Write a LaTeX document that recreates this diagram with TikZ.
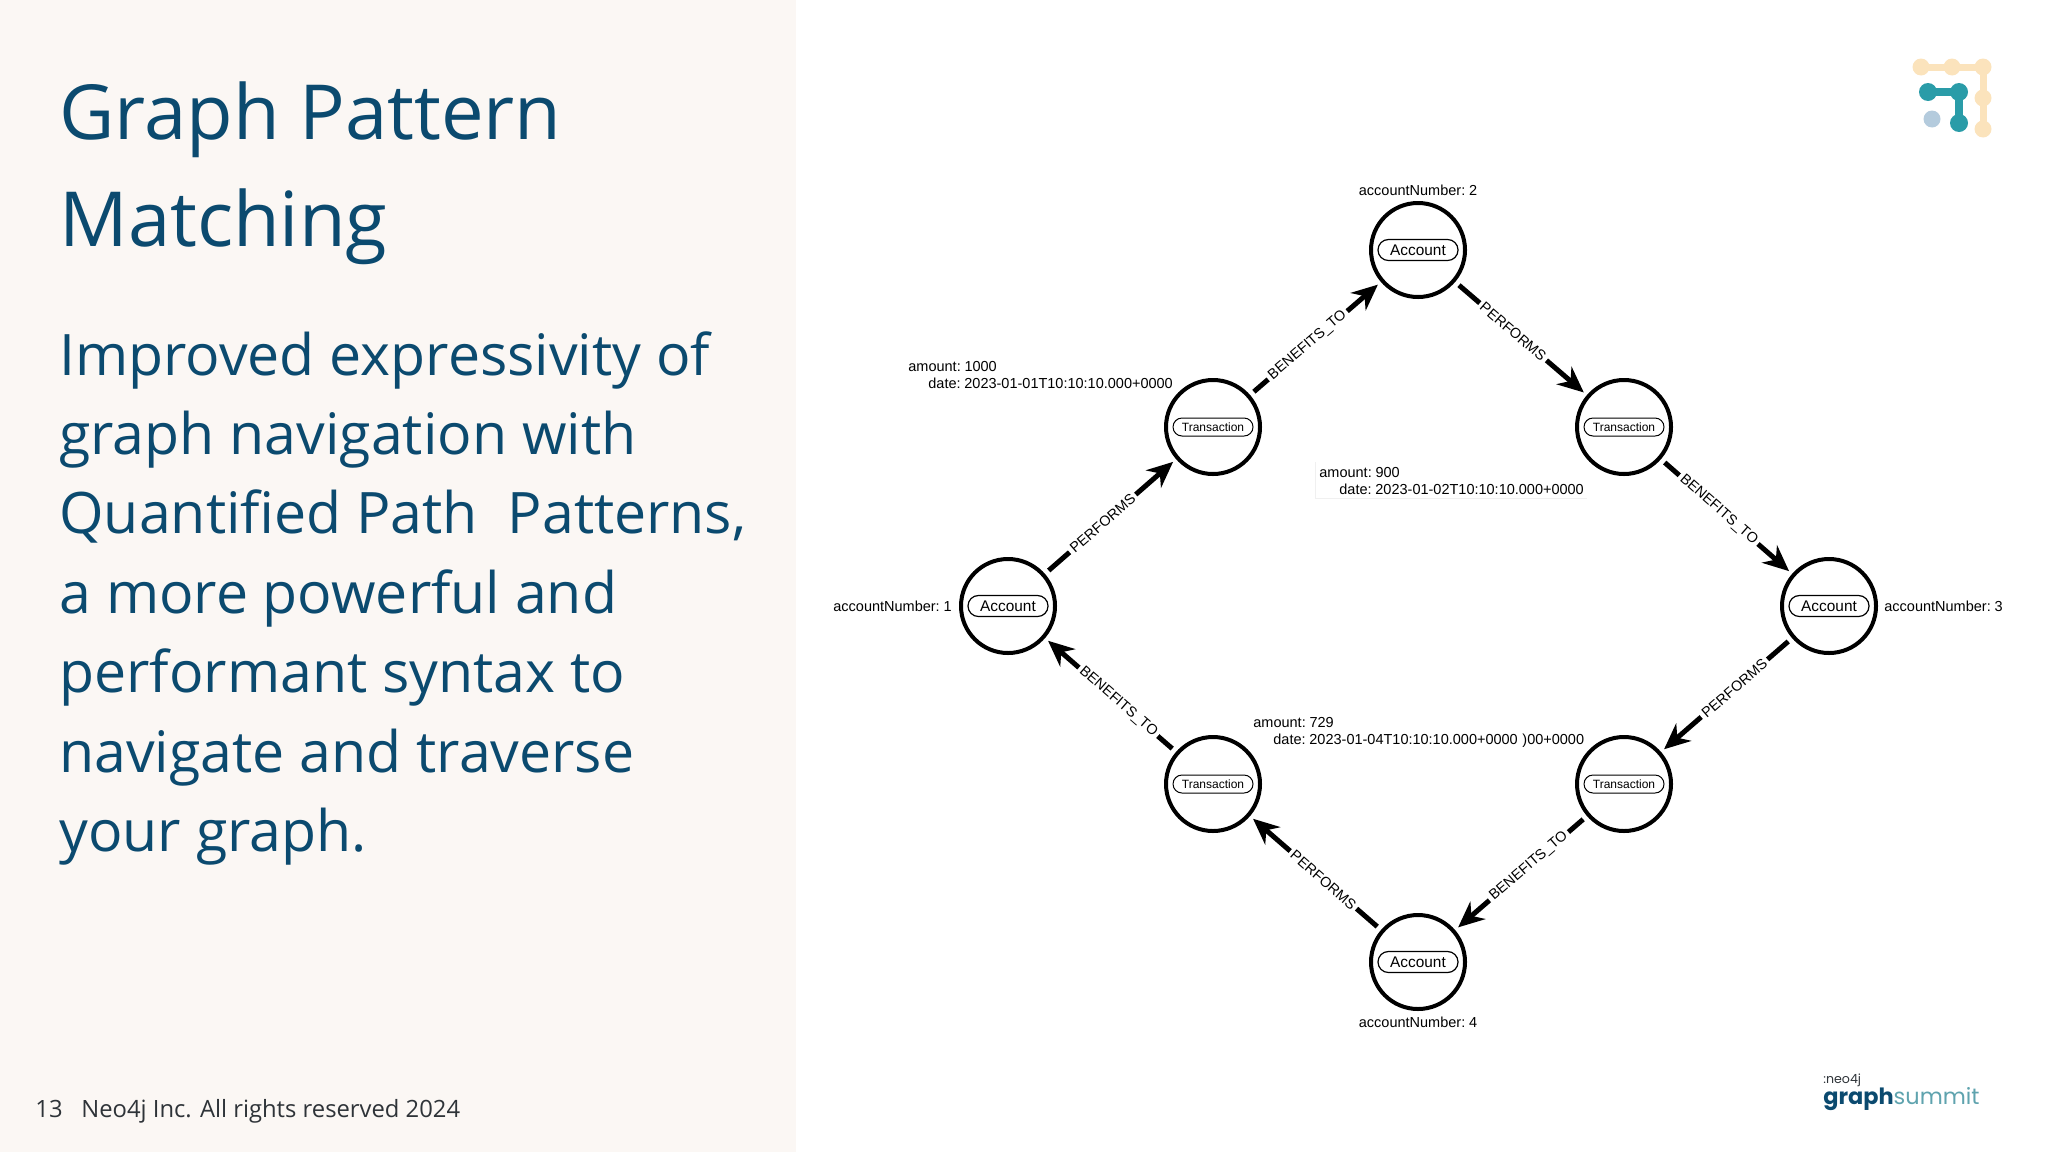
\documentclass[tikz,border=0pt]{standalone}
\usepackage{fontspec}
\usepackage{tikz}
\usetikzlibrary{arrows.meta}
\setmainfont{Open Sans}
\newfontfamily\diagramfont[WordSpace=.6]{Liberation Sans}
\newfontfamily\brandfont{Poppins}
\definecolor{panelbg}{HTML}{FBF7F4}
\definecolor{titleblue}{HTML}{0B4A6F}
\definecolor{footgray}{HTML}{2E3338}
\definecolor{logocream}{HTML}{FBE3BC}
\definecolor{logoteal}{HTML}{2A9CA8}
\definecolor{logoblue}{HTML}{B4CBDD}
\definecolor{brandteal}{HTML}{5FA3AE}
\tikzset{
	graphnode/.style={draw, circle, line width=2pt, minimum size=47pt, inner sep=0pt},
	acctpill/.style={draw, rounded corners=5.2pt, line width=.6pt, minimum width=40pt, minimum height=10.5pt, inner sep=0pt, font=\diagramfont\fontsize{7.7}{9}\selectfont},
	txnpill/.style={draw, rounded corners=4.5pt, line width=.5pt, minimum width=40pt, minimum height=9pt, inner sep=0pt, font=\diagramfont\fontsize{6}{7}\selectfont},
	rel/.style={line width=2.5pt, -{Stealth[length=13pt,width=11.5pt]}, shorten <=2.5pt, shorten >=2pt},
	rellabel/.style={pos=.44, sloped, fill=white, inner sep=1.5pt, font=\diagramfont\fontsize{7.2}{8}\selectfont},
	proptext/.style={anchor=north west, align=left, inner sep=0pt, font=\diagramfont\fontsize{7.25}{8.6}\selectfont},
	nodetext/.style={inner sep=0pt, font=\diagramfont\fontsize{7.25}{8.6}\selectfont},
}
\begin{document}
\begin{tikzpicture}[x=.5pt,y=-.5pt]
	\useasboundingbox (0,0) rectangle (2048,1152);
	\fill[panelbg] (0,0) rectangle (796,1152);

	% left panel
	\node (title) [anchor=north west, align=left, inner sep=0pt, text=titleblue, font=\fontsize{38}{53.5}\selectfont] at (59,81) {Graph Pattern\\Matching};
	\node (body) [anchor=north west, align=left, inner sep=0pt, text=titleblue, font=\fontsize{28.6}{39.7}\selectfont] at (59,331) {Improved expressivity of\\graph navigation with\\Quantified Path\ \ Patterns,\\a more powerful and\\performant syntax to\\navigate and traverse\\your graph.};
	\node (pagenum) [anchor=base west, inner sep=0pt, text=footgray, font=\fontsize{11.9}{14}\selectfont] at (35,1117) {13};
	\node (footer) [anchor=base west, inner sep=0pt, text=footgray, font=\fontsize{11.9}{14}\selectfont] at (81,1117) {Neo4j Inc. All rights reserved 2024};

	% logo
	\draw[logocream, line width=3.5pt] (1921,67) -- (1983,67) -- (1983,129);
	\fill[logocream] (1921,67) circle [radius = 8.5];
	\fill[logocream] (1952,67) circle [radius = 8.5];
	\fill[logocream] (1983,67) circle [radius = 8.5];
	\fill[logocream] (1983,98) circle [radius = 8.5];
	\fill[logocream] (1983,129) circle [radius = 8.5];
	\draw[logoteal, line width=4pt] (1928,92) -- (1959,92) -- (1959,123);
	\fill[logoteal] (1928,92) circle [radius = 9];
	\fill[logoteal] (1959,92) circle [radius = 9];
	\fill[logoteal] (1959,123) circle [radius = 9];
	\fill[logoblue] (1932,119) circle [radius = 8.5];

	% brand
	\node (neo) [anchor=base west, inner sep=0pt, text=footgray, font=\brandfont\fontsize{6.3}{7}\selectfont] at (1823,1083) {:neo4j};
	\node (brand) [anchor=base west, inner sep=0pt, font=\brandfont\fontsize{11.2}{14}\selectfont] at (1823,1104) {\textcolor{titleblue}{\textbf{graph}}\textcolor{brandteal}{summit}};

	% nodes
	\node (acct1) [graphnode] at (1008,606) {};
	\node (txn1) [graphnode] at (1213,427) {};
	\node (acct2) [graphnode] at (1418,250) {};
	\node (txn2) [graphnode] at (1624,427) {};
	\node (acct3) [graphnode] at (1829,606) {};
	\node (txn3) [graphnode] at (1624,784) {};
	\node (acct4) [graphnode] at (1418,962) {};
	\node (txn4) [graphnode] at (1213,784) {};

	\node (acct1pill) [acctpill] at (acct1) {Account};
	\node (acct2pill) [acctpill] at (acct2) {Account};
	\node (acct3pill) [acctpill] at (acct3) {Account};
	\node (acct4pill) [acctpill] at (acct4) {Account};
	\node (txn1pill) [txnpill] at (txn1) {Transaction};
	\node (txn2pill) [txnpill] at (txn2) {Transaction};
	\node (txn3pill) [txnpill] at (txn3) {Transaction};
	\node (txn4pill) [txnpill] at (txn4) {Transaction};

	% relationships
	\draw [rel] (acct1) -- (txn1) node [rellabel] {PERFORMS};
	\draw [rel] (txn1) -- (acct2) node [rellabel] {BENEFITS\_TO};
	\draw [rel] (acct2) -- (txn2) node [rellabel] {PERFORMS};
	\draw [rel] (txn2) -- (acct3) node [rellabel] {BENEFITS\_TO};
	\draw [rel] (acct3) -- (txn3) node [rellabel] {PERFORMS};
	\draw [rel] (txn3) -- (acct4) node [rellabel] {BENEFITS\_TO};
	\draw [rel] (acct4) -- (txn4) node [rellabel] {PERFORMS};
	\draw [rel] (txn4) -- (acct1) node [rellabel] {BENEFITS\_TO};

	% properties
	\node (num1) [nodetext, anchor=east] at (952,606) {accountNumber: 1};
	\node (num2) [nodetext] at (1418,190) {accountNumber: 2};
	\node (num3) [nodetext, anchor=west] at (1884,606) {accountNumber: 3};
	\node (num4) [nodetext] at (1418,1022) {accountNumber: 4};
	\node (prop1) [proptext] at (908,361) {amount: 1000\\\hspace*{10pt}date: 2023-01-01T10:10:10.000+0000};
	\draw [black!6] (1315,462) -- (1315,498) -- (1587,498);
	\node (prop2) [proptext] at (1319,467) {amount: 900\\\hspace*{10pt}date: 2023-01-02T10:10:10.000+0000};
	\node (prop4) [proptext] at (1253,717) {amount: 729\\\hspace*{10pt}date: 2023-01-04T10:10:10.000+0000};
	\node (prop3) [nodetext, anchor=base west] at (1522,744) {)00+0000};
\end{tikzpicture}
\end{document}
